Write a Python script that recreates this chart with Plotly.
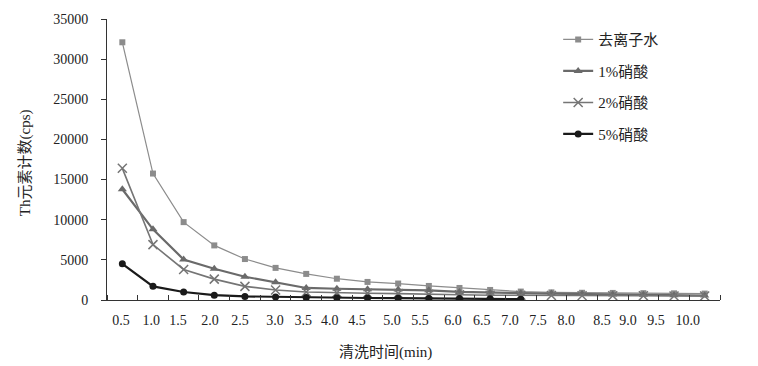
import plotly.graph_objects as go

# ---- data ----
x_labels = ["0.5", "1.0", "1.5", "2.0", "2.5", "3.0", "3.5", "4.0", "4.5", "5.0",
            "5.5", "6.0", "6.5", "7.0", "7.5", "8.0", "8.5", "9.0", "9.5", "10.0"]
series_names = ["去离子水", "1%硝酸", "2%硝酸", "5%硝酸"]
deionized = [32100, 15750, 9700, 6800, 5100, 4000, 3250, 2650, 2250, 2050,
             1750, 1500, 1250, 1050, 950, 900, 880, 850, 830, 800]
nitric_1 = [13800, 8800, 5050, 3900, 2900, 2200, 1500, 1400, 1350, 1300,
            1200, 1000, 900, 850, 800, 750, 700, 650, 600, 550]
nitric_2 = [16400, 6900, 3800, 2600, 1700, 1250, 1000, 900, 850, 800,
            700, 650, 600, 580, 560, 540, 530, 520, 510, 500]
nitric_5 = [4500, 1700, 1000, 600, 450, 380, 300, 280, 250, 230,
            200, 180, 150, 100]

# tick label placement (in category units, as printed in the source figure)
label_pos = [-0.04, 0.94, 1.82, 2.86, 3.84, 4.98, 5.90, 6.77, 7.66, 8.80,
             9.71, 10.79, 11.73, 12.65, 13.56, 14.48, 15.65, 16.50, 17.41, 18.45]

FONT = "Liberation Serif, Noto Sans CJK SC"

styles = [
    dict(color="#8c8c8c", width=1.2, symbol="square", size=6),
    dict(color="#6a6a6a", width=2.2, symbol="triangle-up", size=8),
    dict(color="#757575", width=1.6, symbol="x-thin", size=9),
    dict(color="#1a1a1a", width=2.2, symbol="circle", size=7),
]

fig = go.Figure()
for i, (name, vals) in enumerate(zip(series_names, [deionized, nitric_1, nitric_2, nitric_5])):
    s = styles[i]
    fig.add_trace(go.Scatter(
        x=list(range(len(vals))), y=vals, name=name, mode="lines+markers",
        legendgroup=name,
        line=dict(color=s["color"], width=s["width"]),
        marker=dict(symbol=s["symbol"], size=s["size"], color=s["color"],
                    line=dict(color=s["color"], width=1.5 if s["symbol"] == "x-thin" else 0)),
    ))

fig.update_layout(
    width=758, height=366,
    margin=dict(l=107, r=38, t=17, b=66),
    paper_bgcolor="white", plot_bgcolor="white",
    font=dict(family=FONT, size=14, color="#222"),
    showlegend=True,
    legend=dict(x=0.736, y=0.985, xanchor="left", yanchor="top",
                font=dict(family=FONT, size=15, color="#222"),
                tracegroupgap=9, bgcolor="rgba(0,0,0,0)"),
)

fig.update_xaxes(
    range=[-0.5, 19.5], showgrid=False, zeroline=False,
    showline=True, linecolor="#333", linewidth=1,
    tickmode="array", tickvals=label_pos, ticktext=x_labels,
    ticks="", ticklabelstandoff=7,
    tickfont=dict(family=FONT, size=14, color="#222"),
    minor=dict(tickmode="array", tickvals=[k - 0.5 for k in range(21)],
               ticks="inside", ticklen=5, tickcolor="#333", tickwidth=1, showgrid=False),
)
fig.update_yaxes(
    range=[0, 35000], dtick=5000, tickformat="d", showgrid=False, zeroline=False,
    showline=True, linecolor="#333", linewidth=1,
    ticks="outside", ticklen=5, tickcolor="#333",
    ticklabelstandoff=10,
    tickfont=dict(family=FONT, size=14, color="#222"),
)

fig.add_annotation(text="Th元素计数(cps)", xref="paper", yref="paper",
                   x=-0.134, y=0.49, xanchor="center", yanchor="middle",
                   textangle=-90, showarrow=False,
                   font=dict(family=FONT, size=15, color="#222"))
fig.add_annotation(text="清洗时间(min)", xref="paper", yref="paper",
                   x=0.455, y=0, yshift=-52, xanchor="center", yanchor="middle",
                   showarrow=False, font=dict(family=FONT, size=15, color="#222"))

fig.write_html("out.html", config={"displayModeBar": False},
               post_script="document.body.style.margin='0';document.body.style.overflow='hidden';")
